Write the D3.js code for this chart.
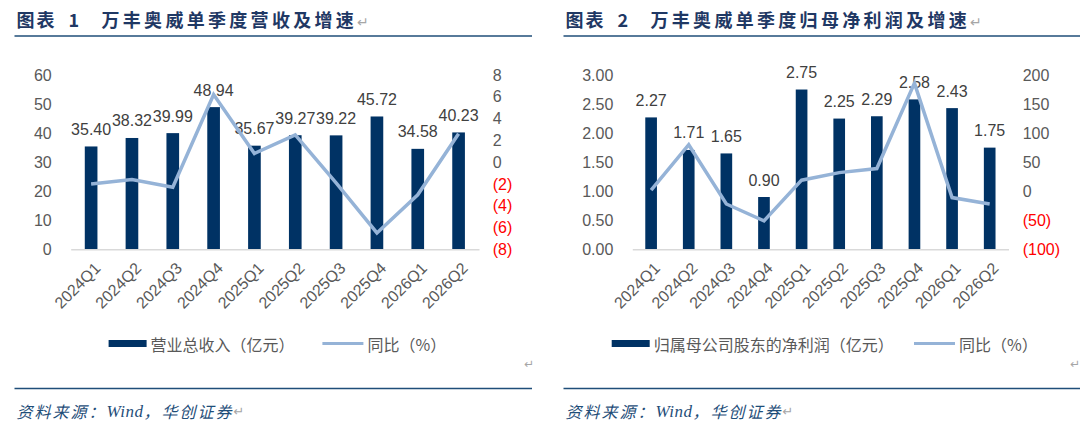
<!DOCTYPE html>
<html>
<head>
<meta charset="utf-8">
<script src="https://cdn.jsdelivr.net/npm/d3@7"></script>
<style>
  html, body { margin: 0; padding: 0; background: #fff; }
  svg { display: block; }
  .num { font-family: "Liberation Sans", Arial, sans-serif; }
  .cjk { font-family: "Noto Sans CJK SC", sans-serif; }
</style>
</head>
<body>
<svg id="chart"></svg>
<script>
// data
const quarters = ['2024Q1', '2024Q2', '2024Q3', '2024Q4', '2025Q1',
                  '2025Q2', '2025Q3', '2025Q4', '2026Q1', '2026Q2'];
const revenue = [35.40, 38.32, 39.99, 48.94, 35.67, 39.27, 39.22, 45.72, 34.58, 40.23];
const revenueYoy = [-2.0, -1.6, -2.3, 6.2, 0.8, 2.5, -1.9, -6.5, -3.0, 2.6];
const profit = [2.27, 1.71, 1.65, 0.90, 2.75, 2.25, 2.29, 2.58, 2.43, 1.75];
const profitYoy = [2, 80, -22, -51, 19, 32, 39, 186, -11, -22];

const revenueTicks = [0, 10, 20, 30, 40, 50, 60];
const revenueYoyTicks = [-8, -6, -4, -2, 0, 2, 4, 6, 8];
const profitTicks = [0, 0.5, 1, 1.5, 2, 2.5, 3];
const profitYoyTicks = [-100, -50, 0, 50, 100, 150, 200];

const BAR = '#003264';
const LINE = '#95B3D7';
const GRAY = '#595959';
const NAVY = '#1F3864';

const svg = d3.select('#chart').attr('width', 1080).attr('height', 425);
svg.append('rect').attr('width', 1080).attr('height', 425).attr('fill', '#fff');

const negFmt = (d) => d < 0 ? '(' + Math.abs(d) + ')' : String(d);

function drawPanel(cfg) {
  const g = svg.append('g');

  // heading
  g.append('text').attr('class', 'cjk')
    .attr('x', cfg.left).attr('y', 27)
    .attr('fill', NAVY).attr('font-size', 18).attr('font-weight', 700)
    .attr('letter-spacing', 2)
    .text('图表');
  g.append('text').attr('class', 'cjk')
    .attr('x', cfg.left + 52).attr('y', 27)
    .attr('fill', NAVY).attr('font-size', 18).attr('font-weight', 700)
    .text(cfg.num);
  const t = g.append('text').attr('class', 'cjk')
    .attr('x', cfg.left + 85).attr('y', 27)
    .attr('fill', NAVY).attr('font-size', 18).attr('font-weight', 700)
    .attr('letter-spacing', 3.3)
    .text(cfg.title);
  t.append('tspan').attr('fill', '#A6A6A6').attr('font-weight', 400)
    .attr('font-size', 14).attr('font-family', 'DejaVu Sans').text('↵');

  g.append('line')
    .attr('x1', cfg.left - 2).attr('x2', cfg.lineEnd)
    .attr('y1', 36).attr('y2', 36)
    .attr('stroke', '#1F4E79').attr('stroke-width', 1.6);

  // scales
  const x = d3.scaleBand().domain(quarters)
    .range(cfg.xRange).paddingInner(0.69).paddingOuter(0.345);
  const yL = d3.scaleLinear().domain(cfg.yLDomain).range([249.3, 75]);
  const yR = d3.scaleLinear().domain(cfg.yRDomain).range([249.3, 75]);

  // left axis
  const axL = g.append('g').attr('class', 'num')
    .attr('transform', `translate(${cfg.axLx},0)`)
    .call(d3.axisLeft(yL).tickValues(cfg.yLTicks).tickSize(0).tickPadding(0)
      .tickFormat(cfg.yLFormat));
  axL.select('.domain').remove();
  axL.selectAll('text').attr('fill', GRAY).attr('font-size', 16);

  // right axis
  const axR = g.append('g').attr('class', 'num')
    .attr('transform', `translate(${cfg.axRx},0)`)
    .call(d3.axisRight(yR).tickValues(cfg.yRTicks).tickSize(0).tickPadding(0)
      .tickFormat(negFmt));
  axR.select('.domain').remove();
  axR.selectAll('text').attr('font-size', 16)
    .attr('fill', (d) => d < 0 ? '#FF0000' : GRAY);

  // bars
  g.selectAll('rect.bar').data(cfg.bars).enter().append('rect')
    .attr('class', 'bar')
    .attr('x', (d, i) => x(quarters[i]))
    .attr('width', x.bandwidth())
    .attr('y', (d) => yL(d))
    .attr('height', (d) => yL(0) - yL(d))
    .attr('fill', BAR);

  // bottom axis
  const axB = g.append('g').attr('class', 'num')
    .attr('transform', `translate(0,${yL(0)})`)
    .call(d3.axisBottom(x).tickSize(0).tickSizeOuter(0));
  axB.select('.domain').attr('stroke', '#D9D9D9').attr('stroke-width', 1.5);
  axB.selectAll('text')
    .attr('fill', GRAY).attr('font-size', 16)
    .attr('text-anchor', 'end')
    .attr('dy', 0).attr('y', 0).attr('x', 0)
    .attr('transform', `translate(${x.bandwidth() / 2 + 4},20) rotate(-45)`);

  // value labels
  g.selectAll('text.val').data(cfg.bars).enter().append('text')
    .attr('class', 'val num')
    .attr('x', (d, i) => x(quarters[i]) + x.bandwidth() / 2)
    .attr('y', (d) => yL(d) - 11.5)
    .attr('text-anchor', 'middle')
    .attr('font-size', 16).attr('fill', '#404040')
    .text((d) => d.toFixed(2));

  // yoy line
  const line = d3.line()
    .x((d, i) => x(quarters[i]) + x.bandwidth() / 2)
    .y((d) => yR(d));
  g.append('path').datum(cfg.yoy)
    .attr('d', line)
    .attr('fill', 'none').attr('stroke', LINE)
    .attr('stroke-width', 3.5).attr('stroke-linejoin', 'miter');

  // legend
  const lg = g.append('g').attr('class', 'cjk').attr('font-size', 16).attr('fill', GRAY);
  lg.append('rect').attr('x', cfg.legX).attr('y', 340).attr('width', 38).attr('height', 7)
    .attr('fill', BAR);
  lg.append('text').attr('x', cfg.legX + 42).attr('y', 343.5)
    .attr('dominant-baseline', 'central').text(cfg.barName);
  lg.append('line').attr('x1', cfg.legX2).attr('x2', cfg.legX2 + 41)
    .attr('y1', 343.5).attr('y2', 343.5)
    .attr('stroke', LINE).attr('stroke-width', 3);
  lg.append('text').attr('x', cfg.legX2 + 45).attr('y', 343.5)
    .attr('dominant-baseline', 'central').text('同比（%）');

  g.append('text').attr('x', cfg.markX).attr('y', 368)
    .attr('font-family', 'DejaVu Sans').attr('font-size', 12).attr('fill', '#A6A6A6')
    .text('↵');

  // footer
  g.append('line')
    .attr('x1', cfg.left - 2).attr('x2', cfg.lineEnd)
    .attr('y1', 388.5).attr('y2', 388.5)
    .attr('stroke', '#1F4E79').attr('stroke-width', 1.6);
  const src = g.append('text').attr('class', 'cjk')
    .attr('x', cfg.left).attr('y', 411)
    .attr('dominant-baseline', 'central')
    .attr('font-size', 16).attr('font-style', 'italic')
    .attr('letter-spacing', 2).attr('fill', '#1F4E79');
  src.append('tspan').text('资料来源：');
  src.append('tspan').attr('font-family', '"Liberation Serif", serif').attr('font-size', 17)
    .attr('letter-spacing', 0.5).text('Wind');
  src.append('tspan').text('，华创证券');
  src.append('tspan').attr('fill', '#A6A6A6').attr('font-style', 'normal')
    .attr('font-size', 13).attr('font-family', 'DejaVu Sans').text('↵');
}

drawPanel({
  left: 16.5, lineEnd: 532, num: '1',
  title: '万丰奥威单季度营收及增速',
  xRange: [70.7, 479], axLx: 51.7, axRx: 492.7,
  yLDomain: [0, 60], yRDomain: [-8, 8],
  yLTicks: revenueTicks, yRTicks: revenueYoyTicks,
  yLFormat: (d) => String(d),
  bars: revenue, yoy: revenueYoy,
  barName: '营业总收入（亿元）',
  legX: 108.6, legX2: 322.4, markX: 524
});

drawPanel({
  left: 565.5, lineEnd: 1080, num: '2',
  title: '万丰奥威单季度归母净利润及增速',
  xRange: [632.3, 1008.5], axLx: 613.3, axRx: 1022.7,
  yLDomain: [0, 3], yRDomain: [-100, 200],
  yLTicks: profitTicks, yRTicks: profitYoyTicks,
  yLFormat: d3.format('.2f'),
  bars: profit, yoy: profitYoy,
  barName: '归属母公司股东的净利润（亿元）',
  legX: 611.7, legX2: 914, markX: 1070
});
</script>
</body>
</html>
